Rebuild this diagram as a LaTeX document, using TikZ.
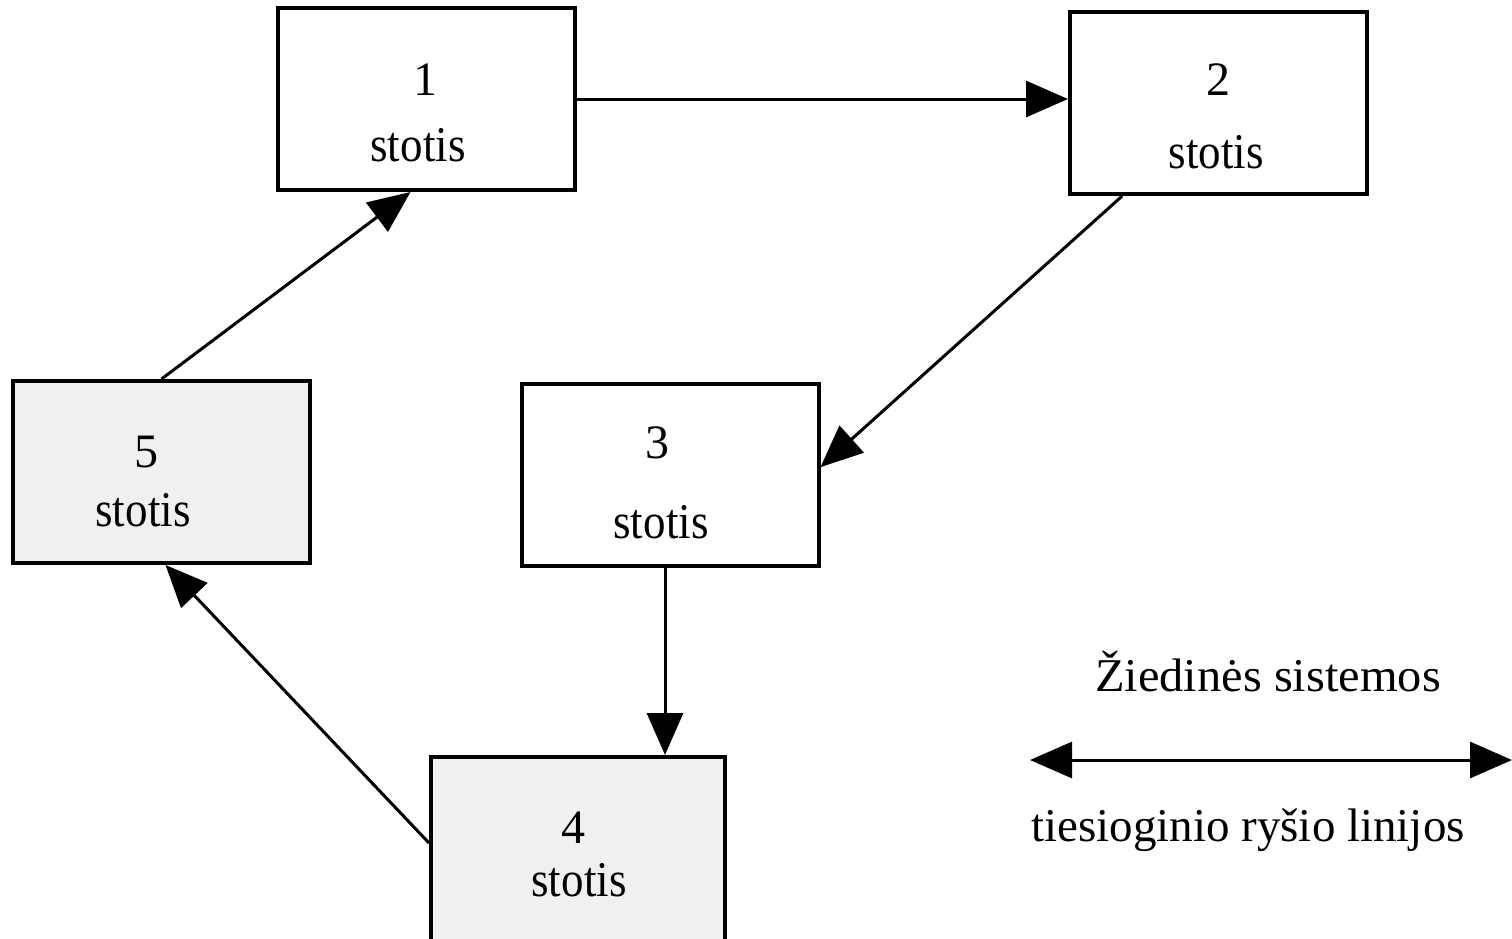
\documentclass[tikz,border=0pt]{standalone}
\usepackage{fontspec}
\setmainfont{Liberation Serif}
\usetikzlibrary{arrows.meta,calc}
\tikzset{
  station/.style={draw=black, line width=4pt, minimum width=297pt, minimum height=182pt, inner sep=0pt},
  shaded/.style={station, fill=black!6},
  num/.style={font=\fontsize{48}{56}\selectfont, inner sep=0pt},
  word/.style={font=\fontsize{50}{58}\selectfont, inner sep=0pt, xscale=0.9},
  legend/.style={font=\fontsize{47}{54}\selectfont, inner sep=0pt},
  link/.style={line width=3pt, -{Triangle[length=42pt,width=36pt]}},
  twolink/.style={line width=3pt, {Triangle[length=42pt,width=36pt]}-{Triangle[length=42pt,width=36pt]}}
}
\begin{document}
\begin{tikzpicture}[x=1pt,y=-1pt]
  \useasboundingbox (0,0) rectangle (1512,938);
  \begin{scope}
  \clip (0,0) rectangle (1512,938);
  % stations
  \node[station] (n1) at (426.5,99) {};
  \node[station] (n2) at (1218.5,103) {};
  \node[station] (n3) at (670,475) {};
  \node[shaded, minimum width=294pt, minimum height=260pt] (n4) at (578,887) {};
  \node[shaded] (n5) at (161.5,472) {};
  \end{scope}

  % station labels
  \node[num]  (t1n) at (425,80)  {1};
  \node[word] (t1s) at (418,145) {stotis};
  \node[num]  (t2n) at (1218,80) {2};
  \node[word] (t2s) at (1216,152) {stotis};
  \node[num]  (t3n) at (657,443) {3};
  \node[word] (t3s) at (661,522) {stotis};
  \node[num]  (t4n) at (573,828) {4};
  \node[word] (t4s) at (579,880) {stotis};
  \node[num]  (t5n) at (146,452) {5};
  \node[word] (t5s) at (143,510) {stotis};

  % ring connections
  \draw[link] (n1.east) -- (n1.east -| n2.west);
  \draw[link] (n2.224) -- (n3.3);
  \draw[link] ($(n3.south)+(-5,0)$) -- ($(n4.north -| n3.south)+(-5,0)$);
  \draw[link] ($(n4.north west)+(0,88)$) -- ($(n5.south)+(4,0)$);
  \draw[link] (n5.north) -- ($(n1.south)+(-16,0)$);

  % legend
  \node[legend, xscale=1.03] (lg1) at (1268,672) {Žiedinės sistemos};
  \coordinate (la) at (1030,760);
  \coordinate (lb) at (1512,760);
  \draw[twolink] (la) -- (lb);
  \node[legend] (lg2) at (1248,830) {tiesioginio ryšio linijos};
\end{tikzpicture}
\end{document}
